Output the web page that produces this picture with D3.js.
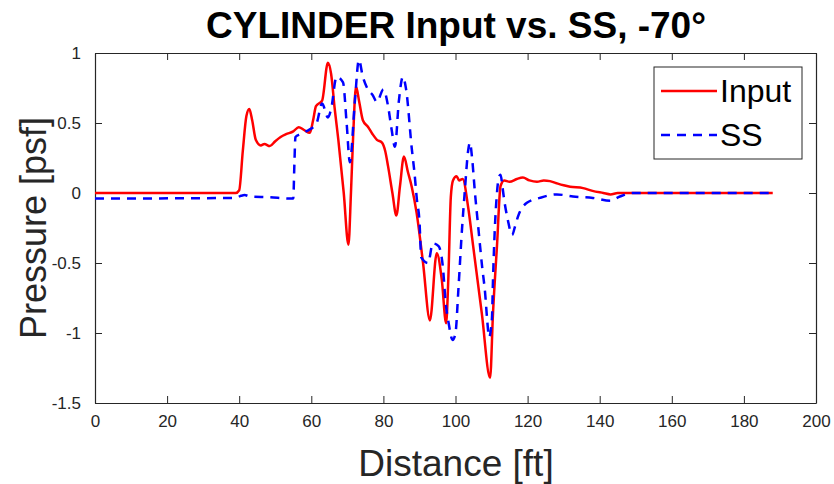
<!DOCTYPE html>
<html>
<head>
<meta charset="utf-8">
<script src="https://cdn.jsdelivr.net/npm/d3@7"></script>
<style>
  body { margin: 0; background: #fff; }
  svg { display: block; }
  .tick text { font-family: "Liberation Sans Narrow", "Arial Narrow", "Liberation Sans", Arial, sans-serif; font-size: 17px; fill: #262626; }
</style>
</head>
<body>
<div id="chart"></div>
<script>
// Input (red, solid)
const inputX = [0, 39, 40, 41, 42, 42.8, 43.6, 44.6, 46, 47, 48.5, 50, 51.5, 53, 55, 56.5, 58, 59.6, 60.5, 61.3, 63, 64.6, 65.5, 66.5, 67.5, 69, 70.3, 71, 71.6, 72.4, 73.3, 74.3, 75.8, 77, 78.2, 79.6, 80.5, 81.3, 82.5, 83.6, 84.6, 85.7, 86.8, 87.9, 89.2, 91, 92.9, 94.8, 96.2, 97.4, 98, 98.7, 99.3, 100.3, 101, 102, 103.5, 104.9, 107.3, 109.6, 110.4, 111.5, 112.5, 113.5, 115, 117, 118.7, 120.5, 122.6, 124.5, 126.2, 128, 130, 131.8, 135.4, 138, 141, 143, 145, 188];
const inputY = [0, 0, 0.02, 0.3, 0.55, 0.6, 0.52, 0.38, 0.34, 0.35, 0.335, 0.37, 0.4, 0.42, 0.44, 0.47, 0.45, 0.43, 0.52, 0.62, 0.66, 0.93, 0.85, 0.6, 0.38, 0.0, -0.37, 0.0, 0.4, 0.76, 0.65, 0.52, 0.47, 0.42, 0.38, 0.36, 0.3, 0.19, 0.0, -0.16, 0.05, 0.26, 0.15, 0.04, -0.14, -0.5, -0.91, -0.43, -0.62, -0.93, -0.62, -0.03, 0.09, 0.12, 0.09, 0.1, -0.1, -0.38, -0.86, -1.32, -0.86, -0.38, 0.05, 0.09, 0.08, 0.1, 0.11, 0.09, 0.08, 0.09, 0.085, 0.07, 0.055, 0.045, 0.035, 0.015, 0.0, -0.01, 0.0, 0];

// SS (blue, dashed)
const ssX = [0, 39, 40.5, 41.5, 43, 48, 55, 55.3, 55.6, 57, 58.5, 60, 61.5, 63, 64.6, 65.5, 67, 68.8, 69.8, 70.7, 72.1, 73.2, 74.3, 75.7, 77, 78.2, 80, 81.3, 82.3, 83.2, 84.3, 85.4, 86.3, 87.9, 88.6, 89.3, 90, 90.5, 92.4, 93.7, 95.3, 96.5, 97.3, 98.1, 99.2, 100, 100.8, 101.8, 102.6, 103.5, 104, 104.6, 105.4, 106.3, 107.4, 108.2, 108.8, 109.3, 110.1, 110.4, 110.9, 111.5, 112, 112.5, 113, 113.4, 114.5, 115.7, 116.5, 117.3, 119.8, 123.4, 128.1, 132.6, 138.1, 142.9, 145.6, 149.2, 188];
const ssY = [-0.04, -0.035, -0.02, -0.015, -0.025, -0.03, -0.04, 0.2, 0.4, 0.42, 0.44, 0.46, 0.5, 0.64, 0.54, 0.6, 0.83, 0.79, 0.5, 0.22, 0.66, 0.95, 0.83, 0.74, 0.7, 0.65, 0.74, 0.62, 0.45, 0.33, 0.66, 0.83, 0.74, 0.31, 0.15, -0.05, -0.2, -0.46, -0.5, -0.36, -0.38, -0.53, -0.79, -0.93, -1.05, -1.0, -0.69, -0.26, 0.02, 0.3, 0.36, 0.25, 0.0, -0.24, -0.53, -0.71, -0.91, -1.03, -0.9, -0.62, -0.26, 0.0, 0.11, 0.13, 0.05, -0.03, -0.19, -0.3, -0.24, -0.17, -0.07, -0.035, -0.01, -0.025, -0.035, -0.055, -0.025, 0.0, 0];

const xTicks = [0, 20, 40, 60, 80, 100, 120, 140, 160, 180, 200];
const yTicks = [-1.5, -1, -0.5, 0, 0.5, 1];
const seriesNames = ["Input", "SS"];

const width = 834, height = 484;
const margin = {top: 53, right: 18, bottom: 81, left: 95};
const axisColor = "#262626";

const svg = d3.select("#chart").append("svg")
    .attr("width", width)
    .attr("height", height);

const x = d3.scaleLinear().domain([0, 200]).range([margin.left, width - margin.right]);
const y = d3.scaleLinear().domain([-1.5, 1]).range([height - margin.bottom, margin.top]);

const fmt = d => String(d);

// axes, ticks pointing inward, mirrored on top/right
const tickLen = 7;
const bottomAxis = svg.append("g")
    .attr("transform", `translate(0,${y(-1.5)})`)
    .call(d3.axisBottom(x).tickValues(xTicks).tickFormat(fmt).tickSizeInner(-tickLen).tickSizeOuter(0).tickPadding(12));
const leftAxis = svg.append("g")
    .attr("transform", `translate(${x(0)},0)`)
    .call(d3.axisLeft(y).tickValues(yTicks).tickFormat(fmt).tickSizeInner(-tickLen).tickSizeOuter(0).tickPadding(14));
const topAxis = svg.append("g")
    .attr("transform", `translate(0,${y(1)})`)
    .call(d3.axisTop(x).tickValues(xTicks).tickFormat("").tickSizeInner(-tickLen).tickSizeOuter(0));
const rightAxis = svg.append("g")
    .attr("transform", `translate(${x(200)},0)`)
    .call(d3.axisRight(y).tickValues(yTicks).tickFormat("").tickSizeInner(-tickLen).tickSizeOuter(0));

[bottomAxis, leftAxis, topAxis, rightAxis].forEach(a => {
    a.select(".domain").attr("stroke", axisColor).attr("stroke-width", 1.2);
    a.selectAll(".tick line").attr("stroke", axisColor);
});

// lines
const line = d3.line()
    .x(d => x(d[0]))
    .y(d => y(d[1]))
    .curve(d3.curveMonotoneX);

const inputData = inputX.map((v, i) => [v, inputY[i]]);
const ssData = ssX.map((v, i) => [v, ssY[i]]);

svg.append("path")
    .datum(inputData)
    .attr("fill", "none")
    .attr("stroke", "#ff0000")
    .attr("stroke-width", 2.5)
    .attr("d", line);

svg.append("path")
    .datum(ssData)
    .attr("fill", "none")
    .attr("stroke", "#0000ff")
    .attr("stroke-width", 2.5)
    .attr("stroke-dasharray", "9,7")
    .attr("d", line);

// title + labels
svg.append("text")
    .attr("x", 456).attr("y", 38)
    .attr("text-anchor", "middle")
    .style("font-family", "Liberation Sans, Arial, sans-serif")
    .style("font-weight", "bold")
    .style("font-size", "37px")
    .style("fill", "#000")
    .text("CYLINDER Input vs. SS, -70°");

svg.append("text")
    .attr("x", 456).attr("y", 476)
    .attr("text-anchor", "middle")
    .style("font-family", "Liberation Sans, Arial, sans-serif")
    .style("font-size", "37px")
    .style("fill", axisColor)
    .text("Distance [ft]");

svg.append("text")
    .attr("transform", `translate(46,${(y(1) + y(-1.5)) / 2}) rotate(-90)`)
    .attr("text-anchor", "middle")
    .style("font-family", "Liberation Sans, Arial, sans-serif")
    .style("font-size", "36px")
    .style("fill", axisColor)
    .text("Pressure [psf]");

// legend
const legend = svg.append("g").attr("transform", "translate(654,67)");
legend.append("rect")
    .attr("width", 148).attr("height", 92)
    .attr("fill", "#fff")
    .attr("stroke", axisColor)
    .attr("stroke-width", 1);

seriesNames.forEach((name, i) => {
    const ly = 24 + i * 44;
    legend.append("line")
        .attr("x1", 7).attr("x2", 63)
        .attr("y1", ly).attr("y2", ly)
        .attr("stroke", i === 0 ? "#ff0000" : "#0000ff")
        .attr("stroke-width", 2.5)
        .attr("stroke-dasharray", i === 0 ? null : "9,7");
    legend.append("text")
        .attr("x", 66).attr("y", ly + 11)
        .style("font-family", "Liberation Sans, Arial, sans-serif")
        .style("font-size", "32px")
        .style("fill", "#000")
        .text(name);
});
</script>
</body>
</html>
